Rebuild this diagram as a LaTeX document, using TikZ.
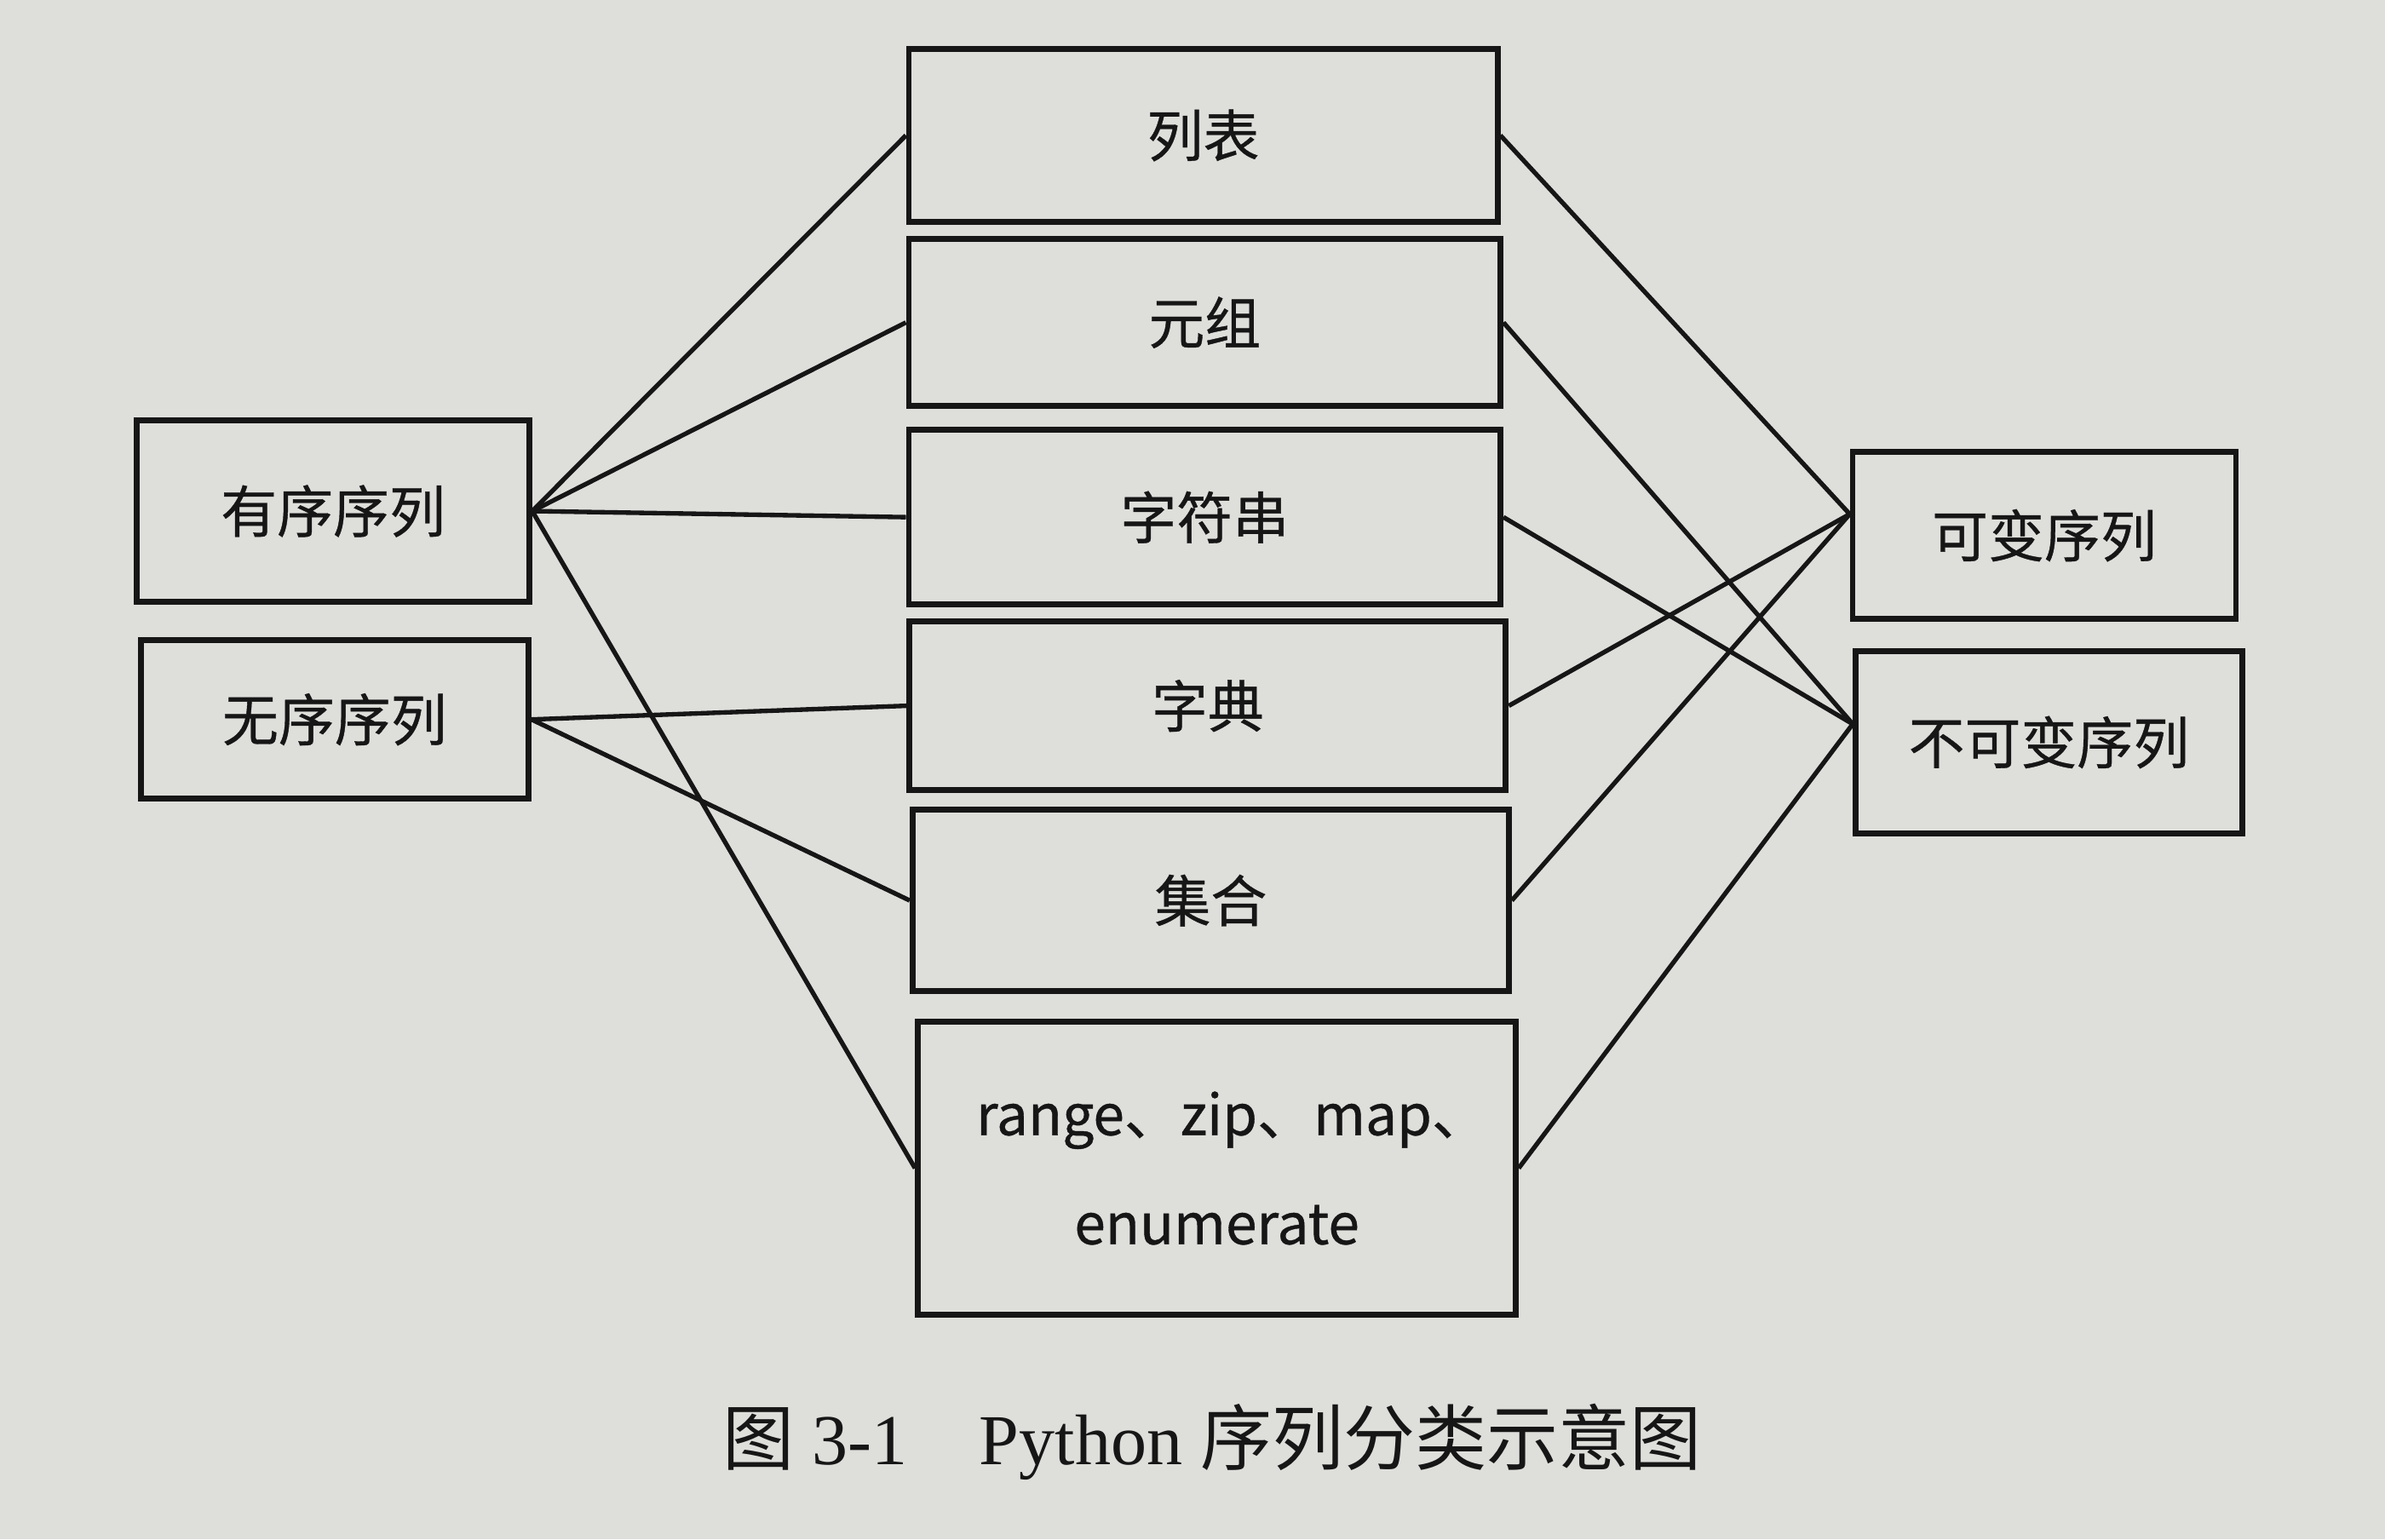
\documentclass[tikz,border=0pt]{standalone}
\usepackage{fontspec}
\usepackage{tikz}
\newfontfamily\cjk[FakeBold=0.6]{Noto Sans CJK SC}
\newfontfamily\capcjk{Noto Sans CJK SC}
\newfontfamily\capfont{Liberation Serif}
\definecolor{paper}{RGB}{222,222,219}
\definecolor{ink}{RGB}{22,22,22}

\tikzset{
  seqbox/.style={draw=ink, line width=1.1pt, inner sep=0pt, font=\cjk\fontsize{10.5pt}{13pt}\selectfont, text=ink},
  link/.style={draw=ink, line width=0.85pt}
}

\begin{document}
\begin{tikzpicture}
\fill[paper] (0,0) rectangle (15.68,-10.12);
\useasboundingbox (0,0) rectangle (15.68,-10.12);

% Left boxes
\node[seqbox, minimum width=2.58cm, minimum height=1.19cm] (youxu) at (2.19, -3.36) {有序序列};
\node[seqbox, minimum width=2.55cm, minimum height=1.04cm] (wuxu) at (2.20, -4.73) {无序序列};

% Middle boxes
\node[seqbox, minimum width=3.87cm, minimum height=1.14cm] (liebiao) at (7.91, -0.89) {列表};
\node[seqbox, minimum width=3.89cm, minimum height=1.10cm] (yuanzu) at (7.92, -2.12) {元组};
\node[seqbox, minimum width=3.89cm, minimum height=1.15cm] (zifuchuan) at (7.92, -3.40) {字符串};
\node[seqbox, minimum width=3.92cm, minimum height=1.11cm] (zidian) at (7.94, -4.64) {字典};
\node[seqbox, minimum width=3.92cm, minimum height=1.19cm] (jihe) at (7.96, -5.92) {集合};
\node[seqbox, minimum width=3.93cm, minimum height=1.93cm, align=center] (rangebox) at (8.00, -7.68) {\hspace*{0.2cm}range、zip、map、\\[0.26cm]enumerate};

% Right boxes
\node[seqbox, minimum width=2.52cm, minimum height=1.10cm] (kebian) at (13.44, -3.52) {可变序列};
\node[seqbox, minimum width=2.54cm, minimum height=1.20cm] (bukebian) at (13.47, -4.88) {不可变序列};

% Lines
\draw[link] (youxu.east) -- (liebiao.west);
\draw[link] (youxu.east) -- (yuanzu.west);
\draw[link] (youxu.east) -- (zifuchuan.west);
\draw[link] (youxu.east) -- (rangebox.west);
\draw[link] (wuxu.east) -- (zidian.west);
\draw[link] (wuxu.east) -- (jihe.west);

\draw[link] (liebiao.east) -- ([yshift=0.14cm]kebian.west);
\draw[link] (zidian.east) -- ([yshift=0.14cm]kebian.west);
\draw[link] (jihe.east) -- ([yshift=0.14cm]kebian.west);
\draw[link] (yuanzu.east) -- ([yshift=0.12cm]bukebian.west);
\draw[link] (zifuchuan.east) -- ([yshift=0.12cm]bukebian.west);
\draw[link] (rangebox.east) -- ([yshift=0.12cm]bukebian.west);

% Caption
\node[text=ink, font=\fontsize{13.4pt}{15pt}\selectfont] (caption) at (7.97, -9.48) {\capcjk 图\capfont{} 3-1\quad Python \capcjk 序列分类示意图};
\end{tikzpicture}
\end{document}
